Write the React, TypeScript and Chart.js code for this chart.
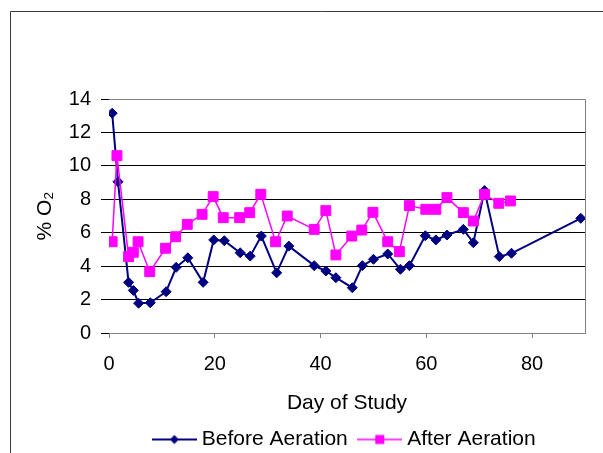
import React, { useEffect, useRef } from "react";
import { Chart, registerables } from "chart.js";

Chart.register(...registerables);

const FONT = "'Liberation Sans', Arial, sans-serif";

const X_TICKS = [0, 20, 40, 60, 80];
const X_MIN = 0;
const X_MAX = 90;
const Y_MIN = 0;
const Y_MAX = 14;
const Y_STEP = 2;

const X_TITLE = "Day of Study";
const Y_TITLE = "% O₂";
const SERIES_NAMES = ["Before Aeration", "After Aeration"];

const beforeDays = [0.6, 1.7, 3.7, 4.6, 5.6, 7.8, 10.8, 12.7, 14.9, 17.8, 19.8, 21.8, 24.8, 26.7, 28.8, 31.7, 34.0, 38.8, 41.0, 42.9, 46.0, 47.9, 50.0, 52.7, 55.1, 56.8, 59.8, 61.8, 63.9, 67.0, 68.9, 71.0, 73.8, 76.1, 89.2];
const beforeValues = [13.15, 9.05, 3.03, 2.55, 1.78, 1.81, 2.47, 3.93, 4.5, 3.03, 5.57, 5.52, 4.8, 4.6, 5.8, 3.6, 5.2, 4.03, 3.71, 3.31, 2.71, 4.03, 4.41, 4.73, 3.81, 4.03, 5.82, 5.57, 5.86, 6.2, 5.4, 8.52, 4.57, 4.77, 6.86];

const afterDays = [0.6, 1.5, 3.7, 4.6, 5.5, 7.7, 10.7, 12.6, 14.8, 17.6, 19.7, 21.6, 24.7, 26.6, 28.7, 31.5, 33.7, 38.8, 41.0, 42.9, 45.9, 47.8, 49.9, 52.7, 54.9, 56.8, 59.9, 61.8, 63.9, 67.0, 68.9, 71.0, 73.7, 75.9];
const afterValues = [5.46, 10.61, 4.57, 4.83, 5.46, 3.67, 5.07, 5.76, 6.5, 7.1, 8.16, 6.9, 6.9, 7.2, 8.3, 5.46, 7.0, 6.2, 7.32, 4.67, 5.8, 6.16, 7.22, 5.46, 4.87, 7.62, 7.4, 7.4, 8.1, 7.2, 6.7, 8.3, 7.76, 7.9];

const NAVY = "#000080";
const MAGENTA = "#FF00FF";

function makeLegendIcon(color: string, shape: "diamond" | "square", lw: number) {
  const c = document.createElement("canvas");
  c.width = 45;
  c.height = 14;
  const ctx = c.getContext("2d")!;
  ctx.strokeStyle = color;
  ctx.fillStyle = color;
  ctx.lineWidth = lw;
  ctx.beginPath();
  ctx.moveTo(0, 7);
  ctx.lineTo(45, 7);
  ctx.stroke();
  if (shape === "diamond") {
    ctx.beginPath();
    ctx.moveTo(22.5, 2.5);
    ctx.lineTo(27, 7);
    ctx.lineTo(22.5, 11.5);
    ctx.lineTo(18, 7);
    ctx.closePath();
    ctx.fill();
  } else {
    ctx.fillRect(18, 2.5, 9, 9);
  }
  return c;
}

const framePlugin = {
  id: "frameAndBorder",
  beforeDraw(chart: any) {
    const ctx = chart.ctx;
    ctx.save();
    ctx.strokeStyle = "#3a3a3a";
    ctx.lineWidth = 1;
    ctx.beginPath();
    ctx.moveTo(10.5, chart.height);
    ctx.lineTo(10.5, 11.5);
    ctx.lineTo(chart.width, 11.5);
    ctx.stroke();
    ctx.restore();
  },
  beforeDatasetsDraw(chart: any) {
    const { ctx, chartArea } = chart;
    ctx.save();
    ctx.strokeStyle = "#808080";
    ctx.lineWidth = 1;
    ctx.beginPath();
    const r = Math.round(chartArea.right) + 0.5;
    const t = Math.round(chartArea.top) + 0.5;
    const b = Math.round(chartArea.bottom) + 0.5;
    ctx.moveTo(chartArea.left, t);
    ctx.lineTo(r, t);
    ctx.lineTo(r, b);
    ctx.stroke();
    ctx.restore();
  },
};

export default function App() {
  const ref = useRef<HTMLCanvasElement | null>(null);

  useEffect(() => {
    if (!ref.current) return;
    const iconBefore = makeLegendIcon(NAVY, "diamond", 2);
    const iconAfter = makeLegendIcon(MAGENTA, "square", 1.5);

    const chart = new Chart(ref.current, {
      type: "scatter",
      data: {
        datasets: [
          {
            label: SERIES_NAMES[0],
            data: beforeDays.map((d, i) => ({ x: d, y: beforeValues[i] })),
            showLine: true,
            borderColor: NAVY,
            backgroundColor: NAVY,
            borderWidth: 2,
            pointStyle: "rectRot",
            pointRadius: 5,
            pointBorderWidth: 1,
            pointBorderColor: NAVY,
            pointBackgroundColor: NAVY,
            order: 1,
          },
          {
            label: SERIES_NAMES[1],
            data: afterDays.map((d, i) => ({ x: d, y: afterValues[i] })),
            showLine: true,
            borderColor: MAGENTA,
            backgroundColor: MAGENTA,
            borderWidth: 1.5,
            pointStyle: "rect",
            pointRadius: 7,
            pointBorderWidth: 1,
            pointBorderColor: MAGENTA,
            pointBackgroundColor: MAGENTA,
            order: 0,
          },
        ],
      },
      options: {
        responsive: false,
        animation: false,
        layout: { padding: { left: 60, right: 0, top: 99, bottom: 0 } },
        plugins: {
          tooltip: { enabled: false },
          legend: {
            position: "bottom",
            labels: {
              usePointStyle: true,
              pointStyleWidth: 34,
              padding: 15,
              color: "#000",
              font: { family: FONT, size: 21 },
              generateLabels: () => [
                { text: SERIES_NAMES[0], pointStyle: iconBefore as any, fillStyle: NAVY, strokeStyle: NAVY, lineWidth: 0, hidden: false, datasetIndex: 0 },
                { text: SERIES_NAMES[1], pointStyle: iconAfter as any, fillStyle: MAGENTA, strokeStyle: MAGENTA, lineWidth: 0, hidden: false, datasetIndex: 1 },
              ],
            },
          },
        },
        scales: {
          x: {
            type: "linear",
            min: X_MIN,
            max: X_MAX,
            afterBuildTicks: (s: any) => {
              s.ticks = X_TICKS.map((v) => ({ value: v }));
            },
            afterFit: (s: any) => {
              s.height = 81;
            },
            grid: { drawOnChartArea: false, drawTicks: true, tickLength: 5, color: "#808080" },
            border: { display: true, color: "#808080" },
            ticks: { padding: 14, color: "#000", font: { family: FONT, size: 20 }, maxRotation: 0 },
            title: { display: true, text: X_TITLE, color: "#000", font: { family: FONT, size: 21 }, padding: { top: 0, bottom: -2 } },
          },
          y: {
            type: "linear",
            position: "left",
            min: Y_MIN,
            max: Y_MAX,
            afterFit: (s: any) => {
              s.width = 49;
            },
            ticks: { stepSize: Y_STEP, padding: 10, color: "#000", font: { family: FONT, size: 20 } },
            grid: { color: "#000", lineWidth: 1, drawTicks: true, tickLength: 8 },
            border: { display: false },
            title: { display: true, text: Y_TITLE, color: "#000", font: { family: FONT, size: 21 }, padding: { top: -27.6, bottom: 0 } },
          },
          yPad: {
            type: "linear",
            position: "right",
            display: true,
            min: Y_MIN,
            max: Y_MAX,
            afterFit: (s: any) => {
              s.width = 48;
            },
            grid: { display: false },
            ticks: { display: false },
            border: { display: false },
            title: { display: false },
          },
        },
      },
      plugins: [framePlugin],
    });
    return () => chart.destroy();
  }, []);

  return (
    <div style={{ position: "fixed", left: 0, top: 0, width: 603, height: 453, overflow: "hidden", background: "#fff" }}>
      <canvas ref={ref} width={633} height={460} style={{ display: "block" }} />
    </div>
  );
}
